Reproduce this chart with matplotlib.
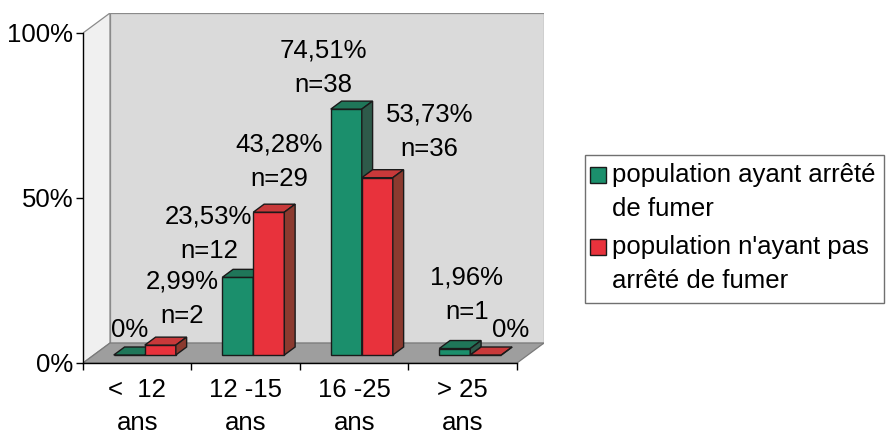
import numpy as np
from matplotlib import pyplot as plt
from matplotlib.patches import Polygon, Rectangle

# data
categories = ['<  12\nans', '12 -15\nans', '16 -25\nans', '> 25\nans']
series_labels = ['population ayant arrêté\nde fumer',
                 "population n'ayant pas\narrêté de fumer"]
pct_stopped = [0.0, 23.53, 74.51, 1.96]
n_stopped = [0, 12, 38, 1]
pct_not_stopped = [2.99, 43.28, 53.73, 0.0]
n_not_stopped = [2, 29, 36, 0]

plt.rcParams['font.family'] = ['Liberation Sans', 'DejaVu Sans']
FS = 18.5
LS = 1.56

# colours (front, top, side)
green = ('#1b8f6c', '#1f7659', '#2e5a4a')
red = ('#e8323c', '#c8393a', '#8b3a2f')

# fake 3d depth of the whole box, in data units
DX, DY = 0.249, 6.06
# bars sit at 40% depth and are 40% deep
f0, fd = 0.4, 0.4
sx, sy = f0 * DX, f0 * DY
bdx, bdy = fd * DX, fd * DY
w = 0.286

fig = plt.figure(figsize=(8.86, 4.34), dpi=100)
W, H = 886.0, 434.0
ax = fig.add_axes([83 / W, 1 - 363 / H, (544 - 83) / W, (363 - 13) / H])
ax.set_xlim(0, len(categories) + DX)
ax.set_ylim(0, 100 + DY)
ncat = len(categories)

# walls and floor
ax.add_patch(Polygon([(0, 0), (DX, DY), (DX, 100 + DY), (0, 100)],
                     closed=True, facecolor='#f0f0f0', edgecolor='#8a8a8a', lw=0.9, zorder=0))
ax.add_patch(Polygon([(DX, DY), (ncat + DX, DY), (ncat + DX, 100 + DY), (DX, 100 + DY)],
                     closed=True, facecolor='#dadada', edgecolor='#8a8a8a', lw=0.9, zorder=0))
ax.add_patch(Polygon([(0, 0), (ncat, 0), (ncat + DX, DY), (DX, DY)],
                     closed=True, facecolor='#9e9e9e', edgecolor='#7a7a7a', lw=0.9, zorder=0.5))

x = np.arange(ncat)
centre = 0.47


def draw_bars(x0, vals, cols):
    ax.bar(x0 + sx, vals, width=w, bottom=sy, align='edge', color=cols[0],
           edgecolor='#1a1a1a', linewidth=1.0, zorder=2)
    for xi, v in zip(x0, vals):
        xl = xi + sx
        top = sy + v
        ax.add_patch(Polygon([(xl, top), (xl + w, top), (xl + w + bdx, top + bdy), (xl + bdx, top + bdy)],
                             closed=True, facecolor=cols[1], edgecolor='#1a1a1a', lw=1.0, zorder=2))
        ax.add_patch(Polygon([(xl + w, sy), (xl + w + bdx, sy + bdy), (xl + w + bdx, top + bdy), (xl + w, top)],
                             closed=True, facecolor=cols[2], edgecolor='#1a1a1a', lw=1.0, zorder=2))


x_green = x + centre - w
x_red = x + centre
draw_bars(x_green, pct_stopped, green)
draw_bars(x_red, pct_not_stopped, red)


def label(v, n):
    if v == 0:
        return '0%'
    return ('%.2f%%' % v).replace('.', ',') + '\nn=%d' % n


# where Excel put the labels (pixels from bar top)
off_green = [(0, 25), (-29, 44), (-23, 41), (12, 54)]
off_red = [(22, 46), (10, 50), (52, 46), (25, 25)]
for x0, vals, ns, offs in [(x_green, pct_stopped, n_stopped, off_green),
                           (x_red, pct_not_stopped, n_not_stopped, off_red)]:
    for xi, v, n, o in zip(x0, vals, ns, offs):
        ax.annotate(label(v, n), xy=(xi + sx + w / 2, sy + v), xytext=o,
                    textcoords='offset pixels', ha='center', va='center',
                    fontsize=FS, linespacing=LS, zorder=5)

# axes
for s in ['top', 'right']:
    ax.spines[s].set_visible(False)
ax.spines['left'].set_bounds(0, 100)
ax.spines['bottom'].set_bounds(0, ncat)
ax.spines['left'].set_linewidth(1.0)
ax.spines['bottom'].set_linewidth(1.0)
ax.spines['left'].set_zorder(3)
ax.spines['bottom'].set_zorder(3)
ax.set_yticks([0, 50, 100])
ax.set_yticklabels(['0%', '50%', '100%'])
ax.tick_params(axis='y', length=5, width=1.0, pad=2, labelsize=FS)
ax.set_xticks(np.arange(ncat + 1))
ax.set_xticklabels([])
ax.set_xticks(x + 0.5, minor=True)
ax.set_xticklabels(categories, minor=True, fontsize=FS, linespacing=1.45)
ax.tick_params(axis='x', which='major', length=5, width=1.0)
ax.tick_params(axis='x', which='minor', length=0, pad=11)
ax.set_facecolor('none')

# legend box, drawn by hand
fig.patches.append(Rectangle((585 / W, 1 - 303 / H), (884 - 585) / W, (303 - 155) / H,
                             transform=fig.transFigure, facecolor='white',
                             edgecolor='#707070', lw=1.0))
for lab, col, ytop in zip(series_labels, [green[0], red[0]], [175, 247]):
    fig.patches.append(Rectangle((590 / W, 1 - (ytop + 8) / H), 16 / W, 16 / H,
                                 transform=fig.transFigure, facecolor=col,
                                 edgecolor='#1a1a1a', lw=1.0))
    fig.text(612 / W, 1 - (ytop + 17) / H, lab, ha='left', va='center',
             fontsize=FS, linespacing=LS)

fig.savefig('out.png', dpi=100)
